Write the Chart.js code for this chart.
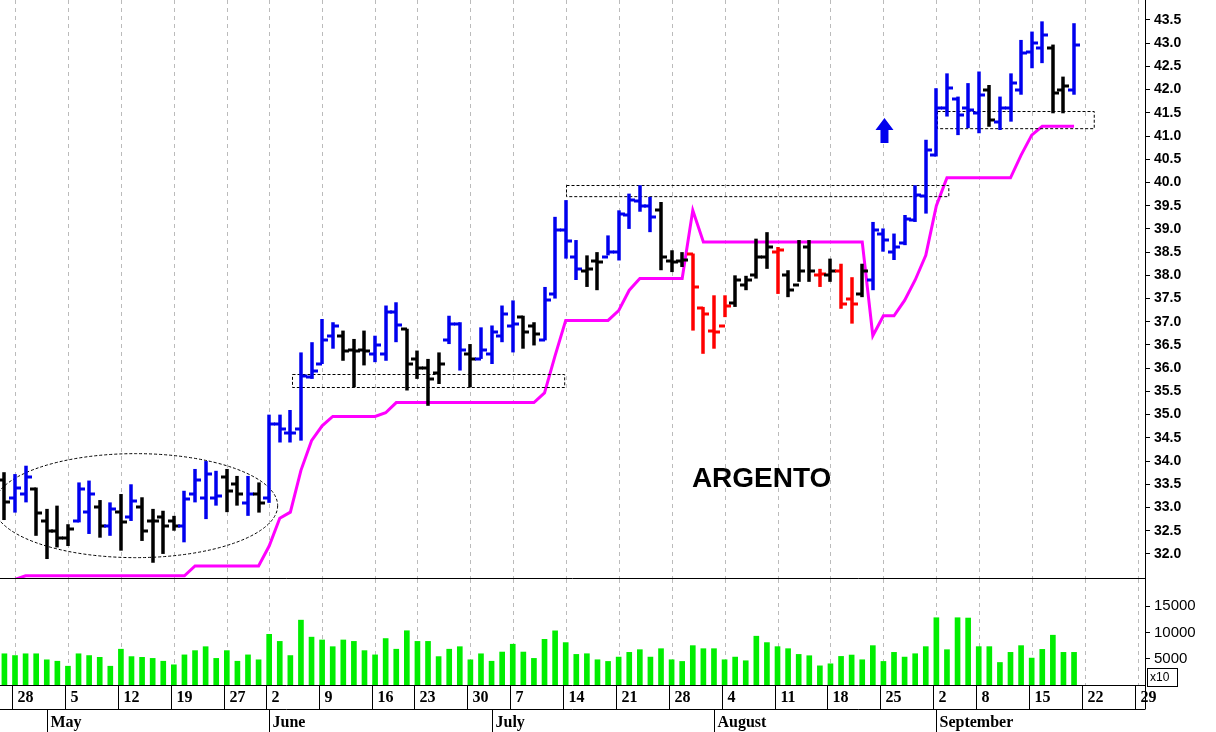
<!DOCTYPE html>
<html><head><meta charset="utf-8">
<script src="https://cdn.jsdelivr.net/npm/chart.js@4"></script>
<style>
html,body{margin:0;padding:0;background:#fff;}
#w1{position:absolute;left:0;top:0;width:1216px;height:579px;}
#w2{position:absolute;left:0;top:579px;width:1216px;height:153px;}
</style></head><body>
<div id="w1"><canvas id="c1"></canvas></div>
<div id="w2"><canvas id="c2"></canvas></div>
<script>
// ---- data (trading days 25 Apr .. 19 Sep) ----
const opens  = [33.6,33.2,33.3,33.4,32.71,32.5,32.35,32.7,32.9,33.0,32.6,32.9,32.8,33.0,32.7,32.8,32.7,32.6,33.3,33.2,33.2,33.65,33.5,33.1,33.3,
 33.2,34.8,34.6,34.7,35.8,36.1,36.7,36.7,36.4,36.4,36.3,36.3,37.2,36.85,36.2,36.0,35.9,36.6,36.95,36.3,36.2,36.3,36.7,36.9,37.1,36.9,36.6,
 37.6,38.97,38.4,38.1,38.3,38.4,38.5,39.3,39.6,39.5,39.4,38.3,38.3,38.47,37.3,36.8,36.9,37.4,37.8,38.0,38.4,38.5,38.0,37.8,38.6,38.0,38.0,38.1,37.5,37.6,
 37.9,38.9,38.5,38.7,39.2,39.7,40.6,41.6,41.8,41.6,41.5,42.0,41.3,41.6,42.0,42.8,42.9,42.9,42.0,42.0];
const highs  = [33.76,33.72,33.9,33.43,32.97,33.04,32.64,33.54,33.58,33.16,33.11,33.29,33.5,33.22,32.97,32.93,32.82,33.36,33.83,34.0,33.79,33.83,33.68,33.68,33.54,
 35.0,35.0,35.1,36.34,36.56,37.06,36.99,36.81,36.63,36.81,36.7,37.35,37.42,36.85,36.38,36.2,36.34,37.13,36.99,36.52,36.88,36.92,37.35,37.46,37.13,36.99,37.75,
 39.26,39.62,38.76,38.43,38.5,38.86,39.4,39.76,39.94,39.69,39.58,38.54,38.5,38.47,37.32,37.57,37.57,38.0,37.99,38.79,38.93,38.61,38.11,38.76,38.76,38.14,38.36,38.25,37.96,38.25,
 39.15,39.01,38.9,39.3,39.94,40.92,42.03,42.35,41.85,42.14,42.39,42.1,41.85,42.35,43.07,43.25,43.47,42.97,42.28,43.43];
const lows   = [32.73,32.89,33.11,32.39,31.89,32.14,32.17,32.68,32.43,32.35,32.39,32.07,32.71,32.28,31.81,32.0,32.5,32.25,33.11,32.75,33.04,32.9,33.04,32.82,32.89,
 33.1,34.4,34.4,34.44,35.77,36.09,36.42,36.16,35.59,36.06,36.13,36.16,36.56,35.52,35.77,35.19,35.66,36.52,35.95,35.59,36.2,36.09,36.56,36.34,36.42,36.49,36.6,
 37.5,38.36,37.9,37.75,37.68,38.43,38.32,39.0,39.37,38.93,38.11,38.07,38.18,36.81,36.31,36.42,37.1,37.32,37.68,37.93,38.14,37.6,37.53,37.86,37.86,37.75,37.86,37.28,36.96,37.53,
 37.68,38.51,38.33,38.65,39.15,39.33,40.56,41.42,41.02,41.17,41.06,41.2,41.13,41.31,41.89,42.46,42.57,41.49,41.49,41.89];
const closes = [33.11,33.43,33.65,32.89,32.5,32.35,32.53,33.4,33.3,32.6,32.97,32.68,33.15,32.5,32.7,32.6,32.6,33.18,33.6,33.72,33.25,33.36,33.29,33.29,33.1,
 34.8,34.7,34.6,35.84,35.95,36.6,36.9,36.38,36.38,36.38,36.49,37.2,36.92,36.1,36.0,35.77,36.1,36.95,36.4,36.2,36.4,36.77,37.17,36.95,36.77,36.74,37.46,
 38.97,38.75,38.14,38.14,38.29,38.5,39.33,39.62,39.5,39.26,38.4,38.29,38.32,37.75,37.17,36.78,37.35,37.89,37.89,38.4,38.6,38.54,37.68,38.1,38.1,38.03,38.1,37.39,37.39,38.1,
 38.97,38.76,38.62,39.22,39.72,40.7,41.6,42.03,41.45,41.56,41.88,41.35,41.6,42.14,42.79,43.0,43.18,41.93,42.07,42.96];
const barColors = "KBBKKKKBBKBKBKKKKBBBBKKBKBBBBBBBKKKBBBKKKKBBKBBBBKKBBBBKKBBBBBKKKRRRRKKKKRKKKRKRRKBBBBBBBBBBBKBBBBBKKB";
const stopLine = [null,31.45,31.53,31.53,31.53,31.53,31.53,31.53,31.53,31.53,31.53,31.53,31.53,31.53,31.53,31.53,31.53,31.53,31.74,31.74,31.74,31.74,31.74,31.74,31.74,
 32.17,32.77,32.9,33.8,34.44,34.76,34.96,34.96,34.96,34.96,34.96,35.04,35.26,35.26,35.26,35.26,35.26,35.26,35.26,35.26,35.26,35.26,35.26,35.26,35.26,35.26,35.47,
 36.27,37.03,37.03,37.03,37.03,37.03,37.24,37.68,37.93,37.93,37.93,37.93,37.93,39.4,38.72,38.72,38.72,38.72,38.72,38.72,38.72,38.72,38.72,38.72,38.72,38.72,38.72,38.72,38.72,38.72,
 36.7,37.13,37.13,37.46,37.9,38.43,39.5,40.1,40.1,40.1,40.1,40.1,40.1,40.1,40.59,41.02,41.21,41.21,41.21,41.21];
const volumes = [5950,5610,5950,5950,4800,4530,3580,5950,5610,5270,3580,6820,5410,5270,5070,4530,3850,5740,6550,7300,5070,6550,4530,5740,4800,
 9660,8310,5610,12360,9120,8580,7300,8580,8310,6550,5740,8850,6820,10340,8310,8310,5410,6820,7300,4800,5950,4530,6280,7770,6280,5070,8700,
 10320,8080,5830,5960,4810,4490,5320,6220,6730,5320,6920,4810,4490,7500,6920,6920,4810,5320,4620,9300,8080,7310,6920,5830,5580,3650,4040,5450,5710,4810,
 7500,4490,6220,5320,5960,7310,12820,6730,12820,12760,7310,7310,4290,6220,7500,5130,6790,9490,6220,6220];
const weekStarts = [1,6,11,16,21,25,30,35,39,44,48,53,58,63,68,73,78,83,88,92,97,102,107];
const weekLabels = ["28","5","12","19","27","2","9","16","23","30","7","14","21","28","4","11","18","25","2","8","15","22","29"];
const monthStarts = [4,25,46,67,88];
const monthLabels = ["May","June","July","August","September"];
const priceTicks = [32,32.5,33,33.5,34,34.5,35,35.5,36,36.5,37,37.5,38,38.5,39,39.5,40,40.5,41,41.5,42,42.5,43,43.5];
const volTicks = [5000,10000,15000];
// annotations (data coordinates)
const boxes = [[27.2,52.9,35.6,35.88],[53,89.1,39.7,39.94],[88.1,102.9,41.17,41.54]];
const ellipse = {x0:-1.0,x1:25.8,yc:33.04,ry:1.12};
const arrowAt = {x:83.1,y0:40.85,y1:41.39};
const titleText = {x:71.5,y:33.6,text:"ARGENTO"};

const XMIN=-0.416, XMAX=107.7;
const colMap={B:'#0000ee',K:'#000000',R:'#ff0000'};

const gridPlugin = {id:'grid',beforeDatasetsDraw(ch){
  const c=ch.ctx,x=ch.scales.x,a=ch.chartArea;
  c.save();c.strokeStyle='#bbbbbb';c.lineWidth=1;c.setLineDash([4,4]);
  weekStarts.forEach(w=>{const px=Math.round(x.getPixelForValue(w))+0.5;if(px<a.right){c.beginPath();c.moveTo(px,a.top);c.lineTo(px,a.bottom);c.stroke();}});
  c.restore();
}};

const ohlcPlugin = {id:'ohlc',afterDatasetsDraw(ch){
  const c=ch.ctx,x=ch.scales.x,y=ch.scales.y;
  c.save();
  c.strokeStyle='#000';c.lineWidth=1;c.setLineDash([3,2]);
  boxes.forEach(b=>{const l=x.getPixelForValue(b[0]),r=x.getPixelForValue(b[1]),t=y.getPixelForValue(b[3]),bt=y.getPixelForValue(b[2]);c.strokeRect(Math.round(l)+0.5,Math.round(t)+0.5,r-l,bt-t);});
  const ex0=x.getPixelForValue(ellipse.x0),ex1=x.getPixelForValue(ellipse.x1),ey=y.getPixelForValue(ellipse.yc),ery=y.getPixelForValue(ellipse.yc-ellipse.ry)-ey;
  c.beginPath();c.ellipse((ex0+ex1)/2,ey,(ex1-ex0)/2,ery,0,0,Math.PI*2);c.stroke();
  c.setLineDash([]);
  c.lineCap='butt';
  for(let i=0;i<highs.length;i++){
    const px=Math.round(x.getPixelForValue(i));
    c.strokeStyle=colMap[barColors[i]];c.lineWidth=3.5;
    c.beginPath();c.moveTo(px,y.getPixelForValue(highs[i]));c.lineTo(px,y.getPixelForValue(lows[i]));c.stroke();
    c.lineWidth=3;
    const po=Math.round(y.getPixelForValue(opens[i])),pc=Math.round(y.getPixelForValue(closes[i]));
    c.beginPath();c.moveTo(px-6,po);c.lineTo(px,po);c.moveTo(px,pc);c.lineTo(px+6,pc);c.stroke();
  }
  const ax=x.getPixelForValue(arrowAt.x),ay0=y.getPixelForValue(arrowAt.y0),ay1=y.getPixelForValue(arrowAt.y1);
  c.fillStyle='#0000ee';c.beginPath();
  c.moveTo(ax,ay1);c.lineTo(ax+9,ay1+12);c.lineTo(ax+4,ay1+12);c.lineTo(ax+4,ay0);c.lineTo(ax-4,ay0);c.lineTo(ax-4,ay1+12);c.lineTo(ax-9,ay1+12);c.closePath();c.fill();
  c.fillStyle='#000';c.font='bold 28px "Liberation Sans", Arial, sans-serif';c.textAlign='center';c.textBaseline='middle';
  c.fillText(titleText.text,x.getPixelForValue(titleText.x),y.getPixelForValue(titleText.y));
  const a=ch.chartArea;c.strokeStyle='#000';c.lineWidth=1;c.beginPath();c.moveTo(0,a.bottom-0.5);c.lineTo(a.right,a.bottom-0.5);c.stroke();
  c.restore();
}};

const rightAxis = (extra)=>Object.assign({position:'right',
  afterFit(s){s.width=71;s.paddingTop=0;s.paddingBottom=0;},
  grid:{drawOnChartArea:false,drawTicks:true,tickLength:5,color:'#000'},
  border:{display:true,color:'#000',width:1}},extra);

new Chart(document.getElementById('c1'),{
  type:'scatter',
  data:{datasets:[{data:stopLine.map((v,i)=>({x:i,y:v})),showLine:true,borderColor:'#ff00ff',borderWidth:3,pointRadius:0,spanGaps:false}]},
  options:{responsive:true,maintainAspectRatio:false,animation:false,layout:{padding:0},
    plugins:{legend:{display:false},tooltip:{enabled:false}},
    scales:{
      x:{type:'linear',min:XMIN,max:XMAX,display:false},
      y:rightAxis({min:31.46,max:43.93,afterBuildTicks(s){s.ticks=priceTicks.map(v=>({value:v}));},
        ticks:{color:'#000',padding:4,font:{family:'"Liberation Sans", Arial',size:14,weight:'bold'},callback:v=>v.toFixed(1)}})
    }},
  plugins:[gridPlugin,ohlcPlugin]
});

const datePlugin = {id:'dates',afterDraw(ch){
  const c=ch.ctx,x=ch.scales.x,a=ch.chartArea;
  const top=a.bottom+0.5, mid=top+24, bot=ch.height;
  c.save();c.strokeStyle='#000';c.lineWidth=1;
  c.beginPath();c.moveTo(0,top);c.lineTo(a.right,top);c.moveTo(0,mid);c.lineTo(a.right,mid);c.stroke();
  c.fillStyle='#000';c.font='bold 16px "Liberation Serif", "Times New Roman", serif';c.textBaseline='middle';c.textAlign='left';
  weekStarts.forEach((w,k)=>{const px=Math.round(x.getPixelForValue(w)-3)+0.5;if(px>a.right)return;
    c.beginPath();c.moveTo(px,top);c.lineTo(px,mid);c.stroke();
    c.fillText(weekLabels[k],px+5,top+12);});
  monthStarts.forEach((m,k)=>{const px=Math.round(x.getPixelForValue(m))+0.5;
    c.beginPath();c.moveTo(px,mid);c.lineTo(px,bot);c.stroke();
    c.fillText(monthLabels[k],px+3,mid+13);});
  c.beginPath();c.moveTo(a.right+0.5,top);c.lineTo(a.right+0.5,mid);c.stroke();
  c.font='12px "Liberation Sans", Arial';c.strokeRect(a.right+2.5,a.bottom-16.5,30,18);c.fillText('x10',a.right+5,a.bottom-7);
  c.restore();
}};

new Chart(document.getElementById('c2'),{
  type:'bar',
  data:{datasets:[{data:volumes.map((v,i)=>({x:i,y:v})),backgroundColor:'#00ee00',barThickness:5}]},
  options:{responsive:true,maintainAspectRatio:false,animation:false,layout:{padding:{top:0,bottom:47}},
    plugins:{legend:{display:false},tooltip:{enabled:false}},
    scales:{
      x:{type:'linear',min:XMIN,max:XMAX,display:false,offset:false},
      y:rightAxis({min:0,max:20200,afterBuildTicks(s){s.ticks=volTicks.map(v=>({value:v}));},
        ticks:{color:'#000',padding:4,font:{family:'"Liberation Sans", Arial',size:15},callback:v=>String(v)}})
    }},
  plugins:[gridPlugin,datePlugin]
});
</script></body></html>
